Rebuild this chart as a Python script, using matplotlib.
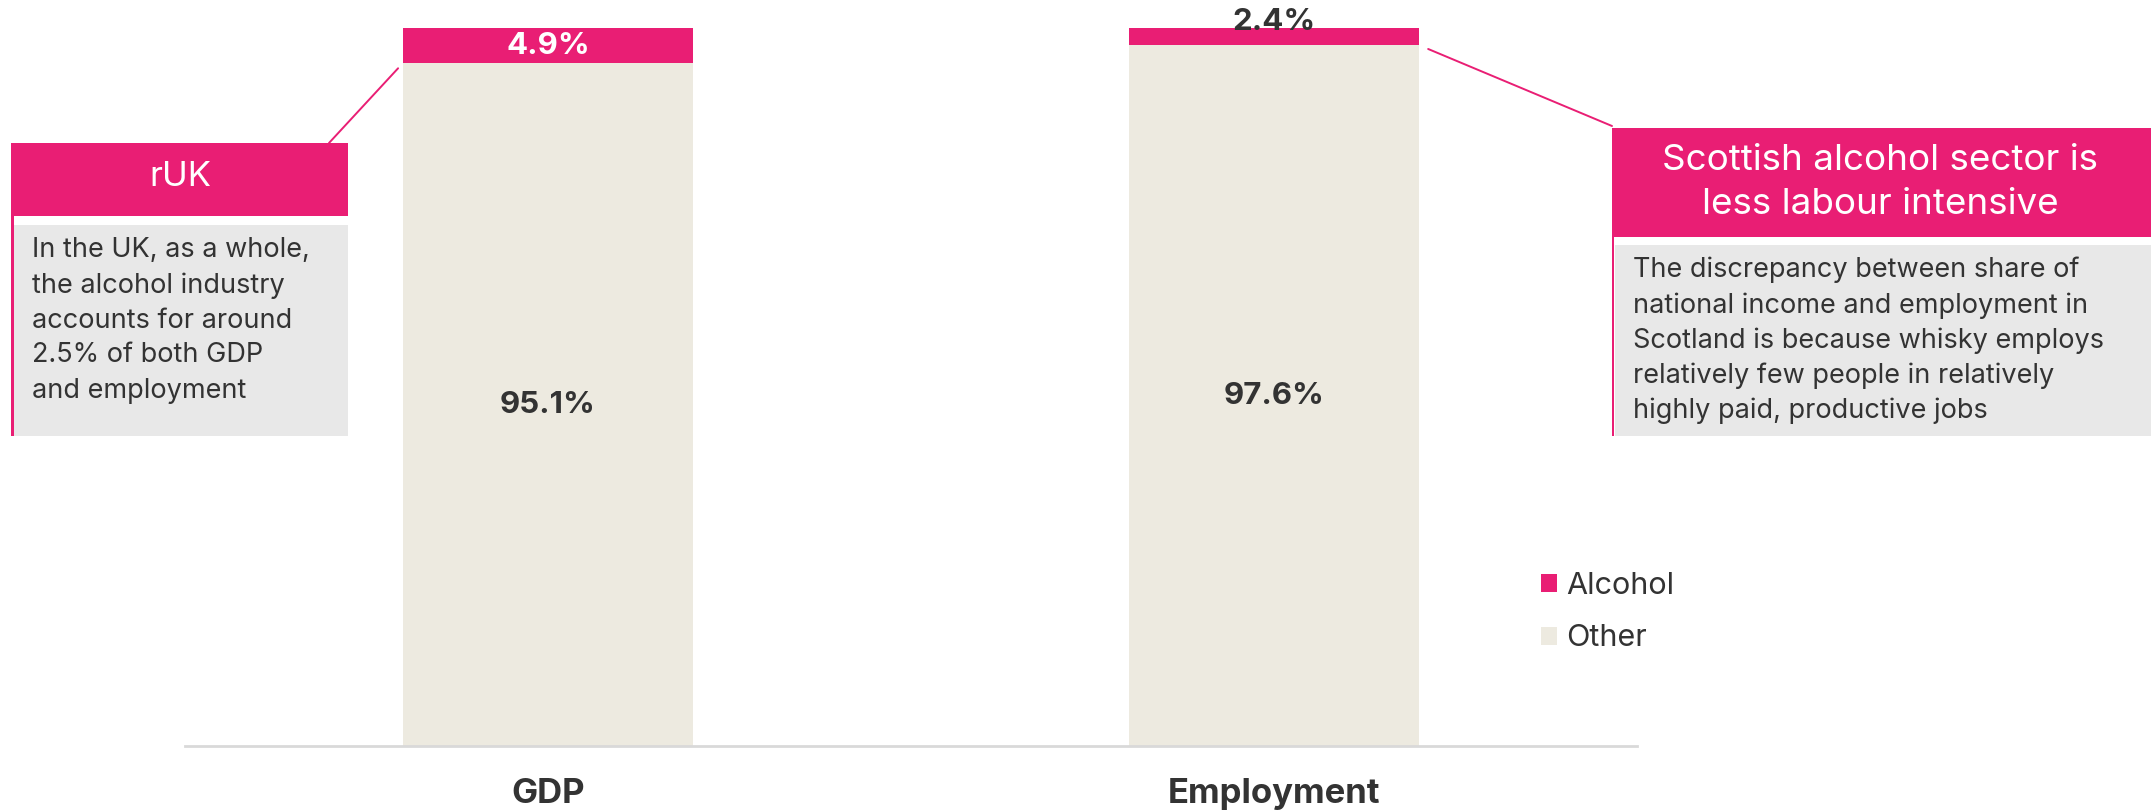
import numpy as np
import matplotlib
matplotlib.use("Agg")
import matplotlib.pyplot as plt
from matplotlib.patches import Rectangle

# data
categories = ["GDP", "Employment"]
alcohol = [4.9, 2.4]
other = [95.1, 97.6]
series_names = ["Alcohol", "Other"]

left_title = "rUK"
left_body = [
    "In the UK, as a whole,",
    "the alcohol industry",
    "accounts for around",
    "2.5% of both GDP",
    "and employment",
]
right_title = ["Scottish alcohol sector is", "less labour intensive"]
right_body = [
    "The discrepancy between share of",
    "national income and employment in",
    "Scotland is because whisky employs",
    "relatively few people in relatively",
    "highly paid, productive jobs",
]

PINK = "#E91E74"
BEIGE = "#EDEAE0"
BOX_GREY = "#E8E8E8"
TEXT = "#333333"
AXIS_GREY = "#D9D9D9"

plt.rcParams["font.family"] = ["Inter", "DejaVu Sans"]

W, H = 2151, 811
fig = plt.figure(figsize=(W / 100, H / 100), dpi=100)
fig.patch.set_facecolor("white")


def fx(px):
    return px / W


def fy(py):
    return 1 - py / H


ax = fig.add_axes([fx(185), fy(746), fx(1637) - fx(185), fy(28) - fy(746)])
x = np.arange(len(categories))
bar_w = 0.4
b_other = ax.bar(x, other, width=bar_w, color=BEIGE, label=series_names[1])
b_alc = ax.bar(x, alcohol, bottom=other, width=bar_w, color=PINK, label=series_names[0])

ax.set_xlim(-0.5, 1.5)
ax.set_ylim(0, 100)
for side in ("left", "right", "top"):
    ax.spines[side].set_visible(False)
ax.spines["bottom"].set_color(AXIS_GREY)
ax.spines["bottom"].set_linewidth(2)
ax.set_yticks([])
ax.set_xticks(x, categories, fontsize=25, fontweight="bold", color=TEXT)
ax.tick_params(axis="x", length=0, pad=23)

# value labels
ax.bar_label(b_other, labels=[f"{v:.1f}%" for v in other], label_type="center",
             fontsize=22.5, fontweight="bold", color=TEXT)
for xi, o, a in zip(x, other, alcohol):
    if a >= 3:
        ax.text(xi, o + a / 2, f"{a:.1f}%", ha="center", va="center",
                fontsize=22.5, fontweight="bold", color="white")
    else:
        ax.annotate(f"{a:.1f}%", xy=(xi, o + a), xytext=(0, 4.5), textcoords="offset points",
                    ha="center", va="center", fontsize=22.5, fontweight="bold", color=TEXT,
                    annotation_clip=False)


def box(x0, y0, x1, y1, color):
    fig.add_artist(Rectangle((fx(x0), fy(y1)), fx(x1) - fx(x0), fy(y0) - fy(y1),
                             transform=fig.transFigure, facecolor=color, edgecolor="none"))


# left callout
box(11, 143, 13.5, 436, PINK)
box(11, 143, 348, 216, PINK)
box(13.5, 225, 348, 436, BOX_GREY)
fig.text(fx(180), fy(177), left_title, ha="center", va="center", fontsize=25, color="white")
for i, line in enumerate(left_body):
    fig.text(fx(32), fy(250.5 + i * 35), line, ha="left", va="center", fontsize=19.5, color=TEXT)

# right callout
box(1612, 128, 1614.5, 436, PINK)
box(1612, 128, W, 237, PINK)
box(1614.5, 245, W, 436, BOX_GREY)
for i, line in enumerate(right_title):
    fig.text(fx(1880), fy(161 + i * 44), line, ha="center", va="center", fontsize=26.5, color="white")
for i, line in enumerate(right_body):
    fig.text(fx(1633), fy(270 + i * 35.3), line, ha="left", va="center", fontsize=19.5, color=TEXT)

# connectors
ax.annotate("", xy=(x[0] - bar_w / 2, other[0]), xytext=(fx(329), fy(143)),
            textcoords="figure fraction", annotation_clip=False,
            arrowprops=dict(arrowstyle="-", color=PINK, lw=1.4, shrinkA=0, shrinkB=5))
ax.annotate("", xy=(x[1] + bar_w / 2, other[1]), xytext=(fx(1612), fy(126)),
            textcoords="figure fraction", annotation_clip=False,
            arrowprops=dict(arrowstyle="-", color=PINK, lw=1.4, shrinkA=0, shrinkB=7))

# legend
fig.legend(handles=[b_alc, b_other], labels=series_names, loc="upper left",
           bbox_to_anchor=(fx(1541), fy(572)), frameon=False, fontsize=22,
           handlelength=0.52, handleheight=0.52, handletextpad=0.3,
           labelspacing=0.8, borderpad=0, borderaxespad=0, labelcolor=TEXT)

fig.savefig("out.png", dpi=100, facecolor="white")
